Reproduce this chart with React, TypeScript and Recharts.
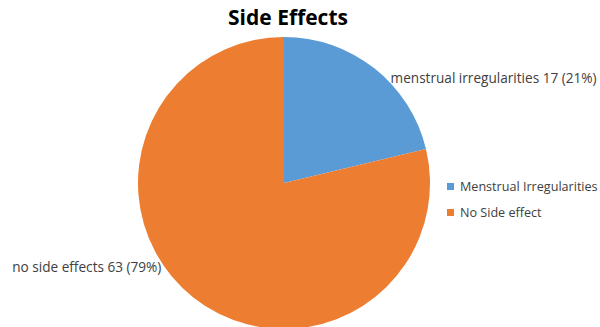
import { PieChart, Pie, Cell, Legend } from "recharts";

const categories = ["Menstrual Irregularities", "No Side effect"];
const sliceLabels = ["menstrual irregularities", "no side effects"];
const counts = [17, 63];
const percents = [21, 79];
const colors = ["#5B9BD5", "#ED7D31"];

const data = categories.map((name, i) => ({
  name,
  value: counts[i],
  label: `${sliceLabels[i]} ${counts[i]} (${percents[i]}%)`,
}));

const FONT = "'Open Sans', sans-serif";

function SliceLabel(props: any) {
  const { cx, cy, outerRadius, index, payload } = props;
  const right = index === 0;
  const x = right ? cx + outerRadius * 0.73 : cx - outerRadius * 0.84;
  const y = right ? cy - outerRadius * 0.72 : cy + outerRadius * 0.57;
  return (
    <text
      x={x}
      y={y}
      textAnchor={right ? "start" : "end"}
      dominantBaseline="central"
      fill="#404040"
      fontSize={13.6}
      fontFamily={FONT}
    >
      {payload.label}
    </text>
  );
}

function LegendContent() {
  return (
    <div style={{ fontFamily: FONT, fontSize: 12.6, color: "#404040" }}>
      {categories.map((c, i) => (
        <div key={c} style={{ display: "flex", alignItems: "center", height: 26 }}>
          <span style={{ width: 7, height: 7, background: colors[i], marginRight: 6 }} />
          {c}
        </div>
      ))}
    </div>
  );
}

export default function App() {
  return (
    <div style={{ position: "absolute", left: 0, top: 0, width: 600, height: 327, background: "#fff", overflow: "hidden" }}>
      <div
        style={{
          position: "absolute",
          left: 0,
          width: 576,
          top: 3,
          textAlign: "center",
          fontFamily: FONT,
          fontWeight: 700,
          fontSize: 21,
          color: "#000",
        }}
      >
        Side Effects
      </div>
      <PieChart width={600} height={327} margin={{ top: 0, right: 0, bottom: 0, left: 0 }}>
        <Pie
          data={data}
          dataKey="value"
          nameKey="name"
          cx={284}
          cy={183}
          outerRadius={146}
          startAngle={90}
          endAngle={-270}
          stroke="none"
          label={SliceLabel}
          labelLine={false}
          isAnimationActive={false}
        >
          {data.map((d, i) => (
            <Cell key={d.name} fill={colors[i]} />
          ))}
        </Pie>
        <Legend content={LegendContent} wrapperStyle={{ left: 447, top: 173, width: 160 }} />
      </PieChart>
    </div>
  );
}
